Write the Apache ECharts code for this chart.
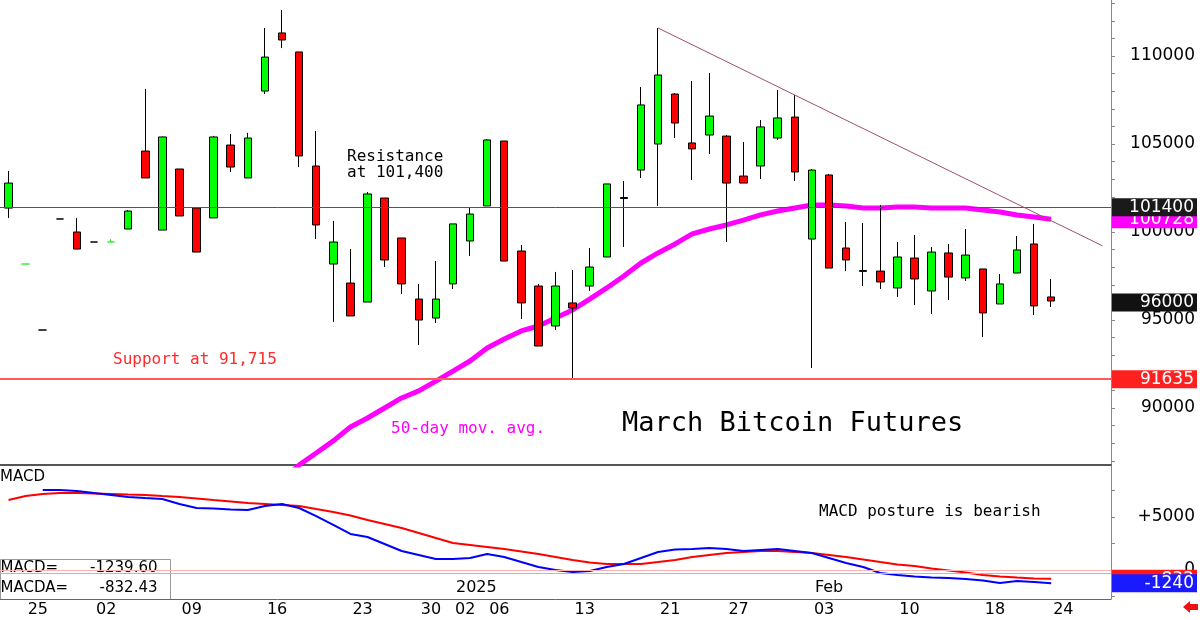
<!DOCTYPE html>
<html>
<head>
<meta charset="utf-8">
<title>March Bitcoin Futures</title>
<script src="https://cdn.jsdelivr.net/npm/echarts@6/dist/echarts.min.js"></script>
<style>
  html, body { margin: 0; padding: 0; background: #fff; }
  #chart { width: 1200px; height: 620px; }
</style>
</head>
<body>
<div id="chart"></div>
<script>
// daily bars, 22 Nov 2024 .. 24 Feb 2025 (MM-DD)
const dates = ['11-22','11-25','11-26','11-27','11-29','12-02','12-03','12-04','12-05','12-06',
  '12-09','12-10','12-11','12-12','12-13','12-16','12-17','12-18','12-19','12-20',
  '12-23','12-24','12-26','12-27','12-30','12-31','01-02','01-03','01-06','01-07',
  '01-08','01-09','01-10','01-13','01-14','01-15','01-16','01-17','01-21','01-22',
  '01-23','01-24','01-27','01-28','01-29','01-30','01-31','02-03','02-04','02-05',
  '02-06','02-07','02-10','02-11','02-12','02-13','02-14','02-18','02-19','02-20',
  '02-21','02-24']
// empty slots on the right of the last bar
const emptySlots = ['+1', '+2', '+3']

// [open, high, low, close]
const bars = [
  [101360, 103470, 100800, 102780], [98180, 98180, 98180, 98180], [94430, 94430, 94430, 94430],
  [100740, 100740, 100740, 100740], [100000, 100800, 99030, 99030], [99430, 99430, 99430, 99430],
  [99430, 99600, 99430, 99430], [100170, 101250, 100170, 101190], [104600, 108130, 103070, 103070],
  [100110, 105430, 100110, 105400], [103580, 103580, 100910, 100910], [101360, 101360, 98860, 98860],
  [100800, 105460, 100800, 105400], [104940, 105570, 103410, 103690], [103070, 105630, 103070, 105340],
  [108010, 111590, 107840, 109940], [111310, 112610, 110450, 110910], [110230, 110230, 103690, 104320],
  [103750, 105740, 99600, 100400], [98180, 100630, 94890, 99430], [97100, 99030, 95230, 95230],
  [96020, 102270, 96020, 102160], [101930, 101930, 98010, 98410], [99660, 99660, 96480, 97050],
  [96190, 97050, 93580, 95000], [95110, 98350, 94830, 96190], [97050, 100460, 96760, 100460],
  [99490, 101420, 98640, 101020], [101480, 105280, 101480, 105230], [105170, 105170, 98350, 98350],
  [98920, 99260, 95060, 95970], [96930, 97050, 93520, 93520], [94660, 97730, 94430, 96930],
  [95970, 97840, 91700, 95680], [96930, 99090, 96650, 98010], [98580, 102730, 98580, 102730],
  [101900, 102900, 99150, 101960], [103520, 108240, 103070, 107220], [105000, 111590, 101480, 108920],
  [107840, 107900, 105340, 106190], [105060, 108580, 102950, 104720], [105510, 109030, 104430, 106590],
  [105450, 105510, 99430, 102780], [103180, 105110, 102780, 102780], [103750, 106360, 103010, 105970],
  [105340, 108070, 105230, 106480], [106530, 107780, 102900, 103410], [99600, 103580, 92270, 103520],
  [103240, 103300, 97950, 97950], [99090, 100570, 97780, 98410], [97760, 100510, 96930, 97810],
  [97780, 101530, 96760, 97160], [96820, 99430, 96310, 98580], [98520, 99830, 95850, 97330],
  [96650, 99150, 95340, 98860], [98810, 99320, 96140, 97440], [97390, 100170, 97220, 98690],
  [97900, 97900, 94030, 95400], [95910, 97610, 95910, 97050], [97670, 99770, 97670, 98980],
  [99320, 100460, 95280, 95800], [96310, 97330, 95740, 96080]
]

// 50-day moving average, starts at bar 16 (below the panel there)
const maStart = 16
const ma50 = [85910, 86760, 87440, 88130, 88920, 89430, 90000, 90570, 90970, 91530,
  92100, 92670, 93410, 93920, 94380, 94660, 95110, 95570, 96190, 96820,
  97500, 98240, 98810, 99320, 99890, 100170, 100400, 100680, 100970, 101190,
  101360, 101530, 101530, 101480, 101360, 101360, 101420, 101420, 101360, 101360,
  101360, 101250, 101140, 100970, 100850, 100728]

// MACD (blue) and its average MACDA (red)
const macd = [null, null, 7550, 7550, 7450, 7260, 7080, 6890, 6790, 6700,
  6230, 5850, 5800, 5710, 5660, 6040, 6230, 5850, 5090, 4250,
  3400, 3110, 2450, 1790, 1420, 1040, 1040, 1130, 1510, 1230,
  750, 280, 0, -190, -90, 280, 570, 1130, 1700, 1930,
  1980, 2080, 1980, 1790, 1890, 1980, 1790, 1600, 1130, 660,
  280, -280, -470, -610, -710, -750, -850, -990, -1230, -1040,
  -1130, -1239.60]
const macda = [6600, 6980, 7170, 7260, 7260, 7220, 7170, 7120, 7080, 6980,
  6890, 6750, 6600, 6460, 6320, 6230, 6130, 6040, 5750, 5470,
  5140, 4720, 4340, 3960, 3490, 3020, 2550, 2360, 2170, 1980,
  1750, 1510, 1230, 940, 710, 570, 570, 570, 750, 940,
  1230, 1420, 1600, 1700, 1790, 1790, 1700, 1600, 1420, 1230,
  990, 750, 520, 380, 140, -50, -240, -470, -610, -710,
  -800, -832.43]

// levels and annotations
const resistance = 101400
const support = 91635
const trendLine = [[38, 111590], [64, 99215]]   // [bar index, price]
const lastPrice = 96000
const maLast = 100728
const macdRefLines = [0, -280]

// axes
const priceMin = 86761, priceMax = 113182
const priceLabels = [90000, 95000, 100000, 105000, 110000]
const macdMin = -2736, macdMax = 9811
const macdTicks = [-2500, 0, 2500, 5000, 7500]
const macdLabels = [0, 5000]
const dayLabelDates = ['11-25','12-02','12-09','12-16','12-23','12-30','01-02','01-06',
  '01-13','01-21','01-27','02-03','02-10','02-18','02-24']
const monthLabelDates = ['01-02', '02-03']
const monthLabels = ['2025', 'Feb']

// green flat dashes (no-range days)
const greenDash = [1, 6]

const sans = 'DejaVu Sans'
const mono = 'DejaVu Sans Mono'

const cats = dates.concat(emptySlots)
const priceTicks = []
for (let v = Math.ceil(priceMin / 1000) * 1000; v <= priceMax; v += 1000) priceTicks.push(v)

const candleData = bars.map((b, i) => {
  const item = { value: [b[0], b[3], b[2], b[1]] }
  if (greenDash.includes(i)) {
    item.itemStyle = { borderColor: '#33ee33', borderColor0: '#33ee33', borderColorDoji: '#33ee33' }
  }
  return item
})
const maData = new Array(maStart).fill(null).concat(ma50)

// value boxes on the right axis: values + background colours
function boxAxis(gridIndex, min, max, values, colors) {
  const rich = {}
  colors.forEach((c, k) => {
    rich['b' + k] = {
      backgroundColor: c, color: '#fff', fontFamily: sans, fontSize: 17,
      width: 80, align: 'right', padding: [1, 3, 0, 2], lineHeight: 19
    }
  })
  return {
    type: 'value', gridIndex, position: 'right', min, max,
    axisLine: { show: false }, axisTick: { show: false }, splitLine: { show: false },
    axisLabel: {
      customValues: values,
      align: 'right',
      margin: 86,
      formatter: (v) => '{b' + values.indexOf(v) + '|' + Math.round(v) + '}',
      rich
    }
  }
}

const chart = echarts.init(document.getElementById('chart'))

chart.setOption({
  animation: false,
  backgroundColor: '#fff',
  grid: [
    { left: -1.5, right: 87, top: 0, height: 465 },
    { left: -1.5, right: 87, top: 466, height: 133 }
  ],
  xAxis: [
    {
      type: 'category', gridIndex: 0, position: 'bottom', data: cats, boundaryGap: true,
      axisLine: { onZero: false, lineStyle: { color: '#555', width: 2 } },
      axisTick: { show: false }, axisLabel: { show: false }, splitLine: { show: false }
    },
    {
      type: 'category', gridIndex: 1, position: 'bottom', data: cats, boundaryGap: true,
      axisLine: { onZero: false, lineStyle: { color: '#666', width: 1 } },
      axisTick: {
        alignWithLabel: true, length: 21, lineStyle: { color: '#999' },
        interval: (i, v) => dayLabelDates.includes(v)
      },
      axisLabel: {
        interval: (i, v) => dayLabelDates.includes(v),
        formatter: (v) => v.slice(3),
        align: 'left', padding: [0, 0, 0, 2], margin: 3,
        color: '#000', fontFamily: sans, fontSize: 16
      },
      splitLine: { show: false }
    },
    {
      type: 'category', gridIndex: 1, position: 'bottom', data: cats, boundaryGap: true,
      axisLine: { show: false, onZero: false }, axisTick: { show: false }, splitLine: { show: false },
      axisLabel: {
        inside: true,
        interval: (i, v) => monthLabelDates.includes(v),
        formatter: (v) => monthLabels[monthLabelDates.indexOf(v)] || '',
        align: 'left', verticalAlign: 'middle', padding: [0, 0, 0, 3], margin: 11,
        color: '#000', fontFamily: sans, fontSize: 16
      }
    }
  ],
  yAxis: [
    {
      type: 'value', gridIndex: 0, position: 'right', min: priceMin, max: priceMax,
      axisLine: { show: true, lineStyle: { color: '#888' } },
      axisTick: { show: true, length: 4, customValues: priceTicks, lineStyle: { color: '#888' } },
      axisLabel: {
        customValues: priceLabels, formatter: (v) => String(v),
        align: 'right', margin: 84, color: '#000', fontFamily: sans, fontSize: 17
      },
      splitLine: { show: false }
    },
    boxAxis(0, priceMin, priceMax, [support, lastPrice, maLast], ['#ff2020', '#111', '#ff00ff']),
    boxAxis(0, priceMin, priceMax, [resistance], ['#1a1a1a']),
    {
      type: 'value', gridIndex: 1, position: 'right', min: macdMin, max: macdMax,
      axisLine: { show: true, lineStyle: { color: '#888' } },
      axisTick: { show: true, length: 4, customValues: macdTicks, lineStyle: { color: '#888' } },
      axisLabel: {
        customValues: macdLabels, formatter: (v) => (v > 0 ? '+' + v : String(v)),
        align: 'right', margin: 84, color: '#000', fontFamily: sans, fontSize: 17
      },
      splitLine: { show: false }
    },
    boxAxis(1, macdMin, macdMax, [macda[macda.length - 1]], ['#ff1a1a']),
    boxAxis(1, macdMin, macdMax, [macd[macd.length - 1]], ['#1a1aff'])
  ],
  series: [
    {
      name: '50-day', type: 'line', xAxisIndex: 0, yAxisIndex: 0, data: maData,
      symbol: 'none', z: 1,
      lineStyle: { color: '#ff00ff', width: 5 }
    },
    {
      name: 'March Bitcoin', type: 'candlestick', xAxisIndex: 0, yAxisIndex: 0,
      data: candleData, barWidth: 8, z: 2,
      itemStyle: {
        color: '#00ff00', color0: '#ff0000',
        borderColor: '#000', borderColor0: '#000', borderColorDoji: '#000', borderWidth: 1
      },
      markLine: {
        silent: true, symbol: 'none', label: { show: false },
        data: [
          { yAxis: resistance, lineStyle: { color: '#555', width: 1, type: 'solid' } },
          { yAxis: support, lineStyle: { color: '#ff5a5a', width: 2, type: 'solid' } },
          [
            { coord: trendLine[0], lineStyle: { color: '#a0506c', width: 1, type: 'solid' } },
            { coord: trendLine[1] }
          ]
        ]
      }
    },
    {
      name: 'MACDA', type: 'line', xAxisIndex: 1, yAxisIndex: 3, data: macda,
      symbol: 'none', lineStyle: { color: '#ff0000', width: 2 },
      markLine: {
        silent: true, symbol: 'none', label: { show: false },
        data: [
          { yAxis: macdRefLines[0], lineStyle: { color: '#ffb0b0', width: 1, type: 'solid' } },
          { yAxis: macdRefLines[1], lineStyle: { color: '#b0b0ff', width: 1, type: 'solid' } }
        ]
      }
    },
    {
      name: 'MACD', type: 'line', xAxisIndex: 1, yAxisIndex: 3, data: macd,
      symbol: 'none', lineStyle: { color: '#0000ff', width: 2 }
    }
  ],
  graphic: [
    { type: 'text', left: 347, top: 149, style: { text: 'Resistance', fill: '#000', font: '16px "' + mono + '"' } },
    { type: 'text', left: 347, top: 165, style: { text: 'at 101,400', fill: '#000', font: '16px "' + mono + '"' } },
    { type: 'text', left: 113, top: 352, style: { text: 'Support at 91,715', fill: '#ff2a2a', font: '16px "' + mono + '"' } },
    { type: 'text', left: 391, top: 421, style: { text: '50-day mov. avg.', fill: '#ff00ff', font: '16px "' + mono + '"' } },
    { type: 'text', left: 622, top: 410, style: { text: 'March Bitcoin Futures', fill: '#000', font: '27px "' + mono + '"' } },
    { type: 'text', left: 819, top: 504, style: { text: 'MACD posture is bearish', fill: '#000', font: '16px "' + mono + '"' } },
    { type: 'text', left: 0, top: 470, style: { text: 'MACD', fill: '#000', font: '15px "' + sans + '"' } },
    {
      type: 'group', left: 0, top: 559, z: 10,
      children: [
        { type: 'rect', shape: { x: 0, y: 0, width: 170, height: 40 }, style: { fill: '#fff', stroke: '#999', lineWidth: 1 } },
        { type: 'text', x: 0, y: 1, style: { text: 'MACD=', fill: '#000', font: '15px "' + sans + '"' } },
        { type: 'text', x: 157, y: 1, style: { text: macd[macd.length - 1].toFixed(2), fill: '#000', align: 'right', font: '15px "' + sans + '"' } },
        { type: 'text', x: 0, y: 21, style: { text: 'MACDA=', fill: '#000', font: '15px "' + sans + '"' } },
        { type: 'text', x: 157, y: 21, style: { text: macda[macda.length - 1].toFixed(2), fill: '#000', align: 'right', font: '15px "' + sans + '"' } }
      ]
    },
    {
      type: 'polygon', z: 10,
      shape: { points: [[1183, 607], [1190, 601], [1190, 604], [1198, 604], [1198, 610], [1190, 610], [1190, 613]] },
      style: { fill: '#ee1111' }
    }
  ]
})
</script>
</body>
</html>
